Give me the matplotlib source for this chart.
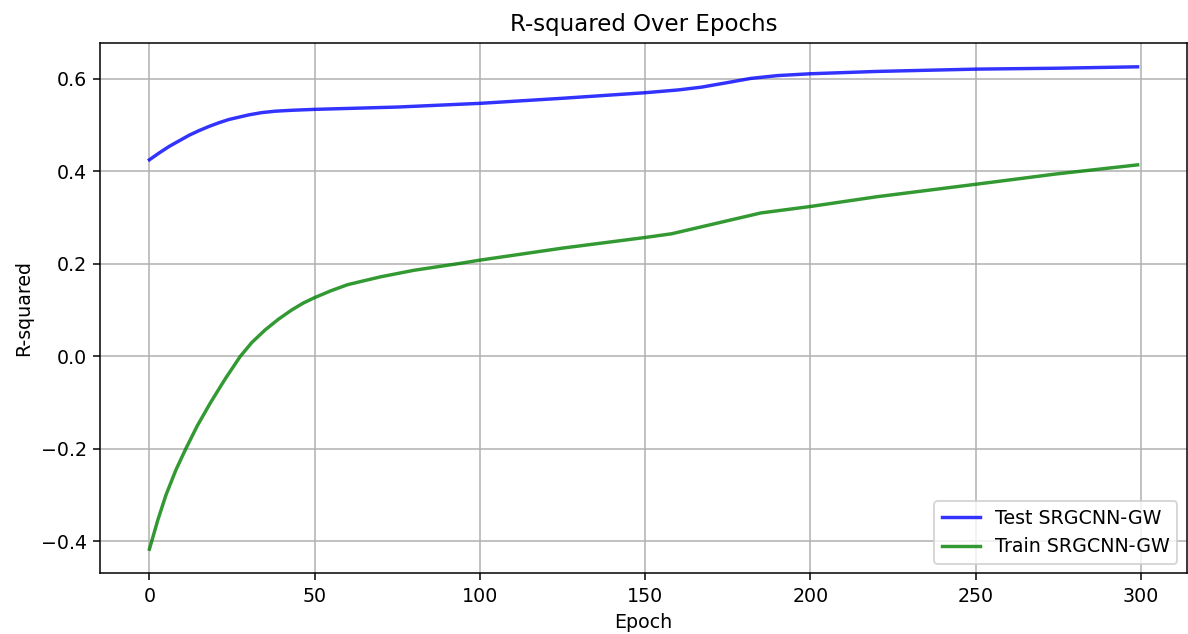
import matplotlib
matplotlib.use('Agg')
from matplotlib import pyplot as plt

# R-squared values at selected epochs
test_epochs = [0, 3, 6, 9, 12, 15, 18, 21, 24, 27, 30, 34, 38, 43, 50, 75, 100, 125, 150, 160, 167, 175, 182,
               190, 200, 220, 250, 275, 299]
test_r2 = [0.425, 0.440, 0.454, 0.466, 0.478, 0.488, 0.497, 0.505, 0.512, 0.517, 0.522, 0.527, 0.530, 0.532,
           0.534, 0.539, 0.547, 0.558, 0.570, 0.576, 0.582, 0.592, 0.601, 0.607, 0.611, 0.616, 0.621, 0.623, 0.626]

train_epochs = [0, 2.5, 5, 8, 11, 14.5, 18.5, 23, 27.5, 31, 35, 39, 43, 46.5, 50, 55, 60, 70, 80, 94, 100,
                125, 150, 158, 170, 185, 200, 220, 250, 274, 299]
train_r2 = [-0.417, -0.355, -0.300, -0.246, -0.200, -0.150, -0.100, -0.048, 0.0, 0.030, 0.057, 0.080, 0.100,
            0.115, 0.127, 0.142, 0.155, 0.172, 0.186, 0.201, 0.208, 0.234, 0.257, 0.265, 0.285, 0.310, 0.324,
            0.345, 0.372, 0.394, 0.414]

dpi = 137
fig = plt.figure(figsize=(1188 / dpi, 634 / dpi), dpi=dpi)
ax = fig.add_axes([100 / 1188, 60.7 / 634, 1087 / 1188, 530.6 / 634])

ax.plot(test_epochs, test_r2, color='blue', alpha=0.8, linewidth=1.8, label='Test SRGCNN-GW')
ax.plot(train_epochs, train_r2, color='green', alpha=0.8, linewidth=1.8, label='Train SRGCNN-GW')

ax.set_title('R-squared Over Epochs')
ax.set_xlabel('Epoch')
ax.set_ylabel('R-squared')
ax.grid(True)
ax.legend(loc='lower right')

fig.savefig('out.png', dpi=dpi)
